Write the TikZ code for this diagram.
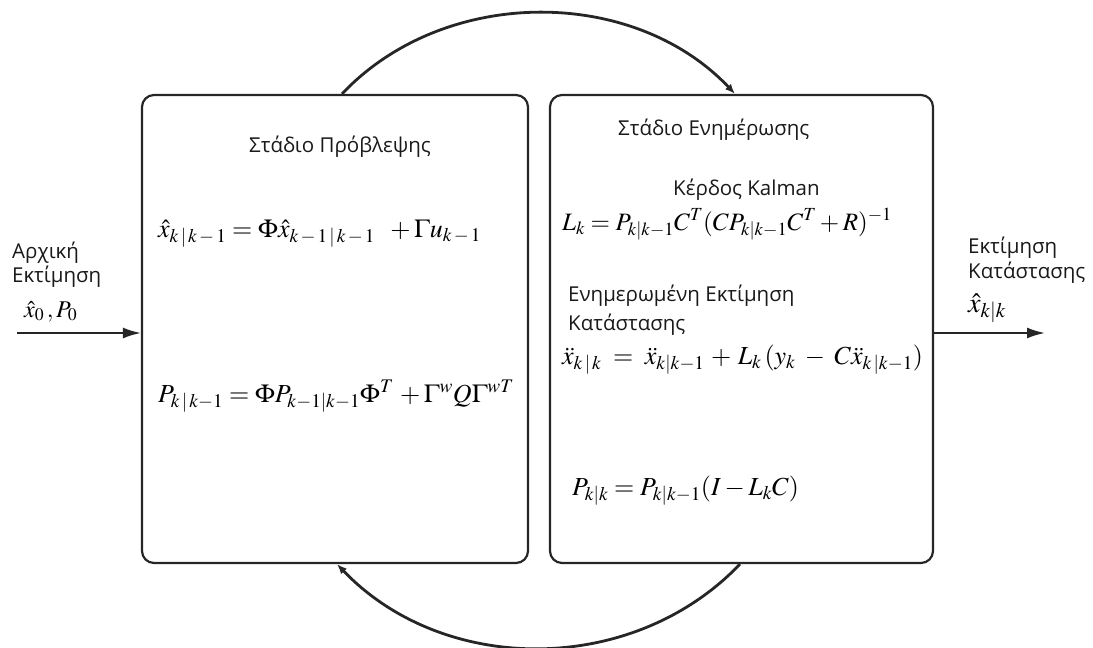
\documentclass[tikz,border=0pt]{standalone}
\usepackage{mathptmx}
\usepackage[no-math]{fontspec}
\setmainfont{Open Sans}
\usetikzlibrary{arrows.meta}
\tikzset{
  stage/.style={draw=black!85, line width=2.2pt, rounded corners=12pt, inner sep=0pt},
  lbl/.style={anchor=base west, inner sep=0pt, font=\fontsize{20.5}{24}\selectfont, text=black!90},
  eq/.style={anchor=base west, inner sep=0pt, font=\fontsize{26}{30}\selectfont},
  flow/.style={line width=2pt, draw=black!85, -{Latex[length=18pt,width=11pt]}},
  loopback/.style={line width=2.8pt, draw=black!85, -{Latex[length=10pt,width=8pt]}},
}
\begin{document}
\begin{tikzpicture}[x=1pt,y=-1pt]
\useasboundingbox (0,0) rectangle (1093,648);
\node[stage, minimum width=386pt, minimum height=468pt] (pred) at (335,329) {};
\node[stage, minimum width=383pt, minimum height=468pt] (upd) at (741.5,329) {};

\draw[loopback] ([xshift=7pt]pred.north) .. controls (444,-14) and (633,-14) .. ([xshift=-6.5pt]upd.north);
\draw[loopback] ([xshift=-1.5pt]upd.south) .. controls (633,676) and (444,676) .. ([xshift=2pt]pred.south);

\coordinate (src) at (17,333);
\coordinate (dst) at (1045,333);
\draw[flow] (src) -- (src -| pred.west);
\draw[flow] (upd.east |- dst) -- (dst);

\node[lbl] (in1) at (12,258) {Αρχική};
\node[lbl] (in2) at (12,282) {Εκτίμηση};
\node[eq, font=\fontsize{24}{28}\selectfont] (in3) at (24,317) {$\hat{x}_0\,, P_0$};
\node[lbl] (out1) at (968,253) {Εκτίμηση};
\node[lbl] (out2) at (968,278) {Κατάστασης};
\node[eq, font=\fontsize{28}{32}\selectfont] (out3) at (968,312) {$\hat{x}_{k|k}$};

\node[lbl] (t1) at (249,152) {Στάδιο Πρόβλεψης};
\node[lbl] (t2) at (618,135) {Στάδιο Ενημέρωσης};
\node[lbl] (t3) at (673,195) {Κέρδος Kalman};
\node[lbl] (t4) at (568,301) {Ενημερωμένη Εκτίμηση};
\node[lbl] (t5) at (568,330) {Κατάστασης};

\node[eq] (e1) at (158,237) {$\hat{x}_{k\,|\,k\,-\,1} = \Phi\hat{x}_{k\,-\,1\,|\,k\,-\,1} \;\; + \Gamma u_{k\,-\,1}$};
\node[eq] (e2) at (158,402) {$P_{k\,|\,k-1} = \Phi P_{k-1|k-1}\Phi^{T} \,+ \Gamma^{w} Q \Gamma^{wT}$};
\node[eq, font=\fontsize{25}{30}\selectfont] (e3) at (562,230) {$L_k = P_{k|k-1} C^{T} (C P_{k|k-1} C^{T} + R)^{-1}$};
\node[eq] (e4) at (562,364) {$\ddot{x}_{k\,|\,k} \;=\; \ddot{x}_{k|k-1} \,+\, L_k\,(y_k \;-\; C\ddot{x}_{k\,|k-1})$};
\node[eq] (e5) at (572,495) {$P_{k|k} = P_{k|k-1}(I - L_k C)$};
\end{tikzpicture}
\end{document}
